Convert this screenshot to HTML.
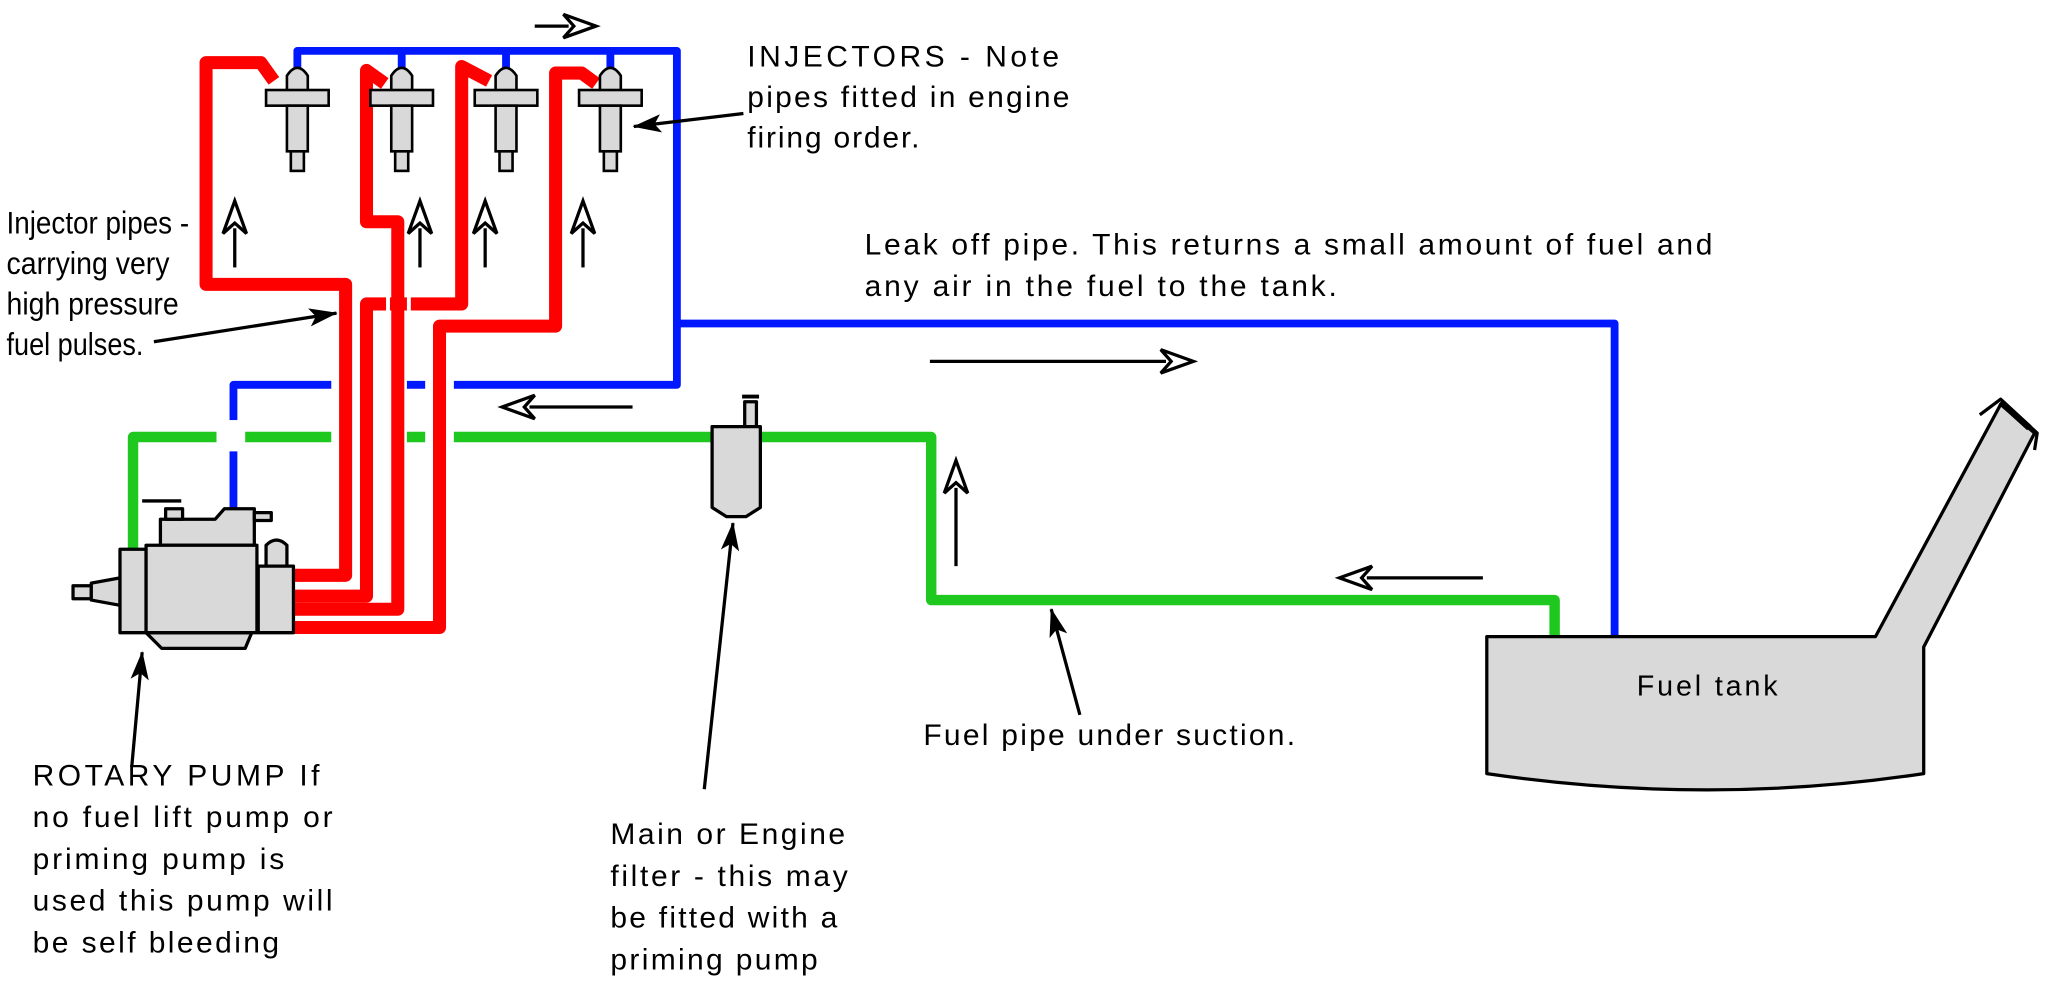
<!DOCTYPE html>
<html><head><meta charset="utf-8"><style>html,body{margin:0;padding:0;background:#fff}svg{display:block}</style></head>
<body>
<svg width="2045" height="981" viewBox="0 0 1568 752" preserveAspectRatio="none" xmlns="http://www.w3.org/2000/svg" font-family="Liberation Sans, sans-serif">
<defs>
<marker id="fh" markerWidth="22" markerHeight="14" refX="21" refY="7" orient="auto" markerUnits="userSpaceOnUse" viewBox="0 0 22 14"><path d="M0,0 L22,7 L0,14 L5,7 Z" fill="#000"/></marker>
</defs>
<rect width="1568" height="752" fill="#fff"/>
<g fill="none" stroke-linejoin="round">
<path d="M102,422 V335 H714 V460 H1192 V490" stroke="#1ec81e" stroke-width="8"/>
<path d="M228,52 V39 H519 V295 H179 V392" stroke="#0018ff" stroke-width="6"/>
<path d="M308,39 V52 M388,39 V52 M468,39 V52" stroke="#0018ff" stroke-width="6"/>
<path d="M519,248 H1238 V490" stroke="#0018ff" stroke-width="6"/>
</g>
<g fill="#fff">
<rect x="166" y="322" width="22" height="24"/>
<rect x="254" y="285" width="58" height="55"/>
<rect x="326" y="285" width="22" height="55"/>
<rect x="296" y="225" width="18" height="16"/>
</g>
<g fill="none" stroke="#ff0000" stroke-width="10" stroke-linejoin="round">
<path d="M210,62 L200,48 H158 V218 H265 V441 H226"/>
<path d="M295,64 L281,54 V170 H305 V467 H226"/>
<path d="M375,62 L354,51 V233 H281 V457 H226"/>
<path d="M457,64 L446,56 H426 V250 H337 V481 H226"/>
</g>
<rect x="296" y="226" width="3" height="14" fill="#fff"/><rect x="312" y="226" width="3" height="14" fill="#fff"/>
<g fill="#d9d9d9" stroke="#000" stroke-width="2">
<g id="inj">
<path d="M220,70 V58 Q228,46 236,58 V70 Z"/>
<rect x="204" y="69" width="48" height="12"/>
<rect x="220" y="81" width="16" height="35"/>
<rect x="223" y="116" width="10" height="15"/>
</g>
<use href="#inj" x="80"/><use href="#inj" x="160"/><use href="#inj" x="240"/>
</g>
<g fill="#d9d9d9" stroke="#000" stroke-width="2.5" stroke-linejoin="round">
<rect x="56" y="449" width="14" height="10"/>
<path d="M70,447 L92,443 V464 L70,460 Z"/>
<path d="M112,485 L124,497 H188 L193,485 Z"/>
<rect x="92" y="421" width="20" height="64"/>
<path d="M123,418 V398 H165 L172,390 H195 V418 Z"/>
<rect x="127" y="390" width="13" height="8"/>
<path d="M109,384 H139" fill="none"/>
<rect x="195" y="393" width="13" height="6"/>
<rect x="112" y="418" width="85" height="67"/>
<path d="M204,434 V418 Q212,410 220,418 V434 Z"/>
<rect x="198" y="434" width="27" height="51"/>
</g>
<g fill="#d9d9d9" stroke="#000" stroke-width="2.5" stroke-linejoin="round">
<rect x="571" y="308" width="9" height="19"/>
<path d="M569,304 H582" stroke-width="3"/>
<path d="M546,327 H583 V389 L572,396 H557 L546,389 Z"/>
</g>
<g stroke="#000" stroke-width="2.5" stroke-linejoin="round">
<path d="M1140,488 H1438 L1534,310 L1560,332 L1475,496 V593 Q1310,618 1140,593 Z" fill="#d9d9d9"/>
<path d="M1518,318 L1534,306 L1562,332 L1560,345" fill="none"/>
<path d="M1534,308 L1556,328" stroke-width="5"/>
</g>
<g stroke="#000" stroke-width="2.5" fill="#fff" stroke-linejoin="miter">
<path d="M410,20 H436"/><path d="M432,11 L457,20 L432,29 L440,20 Z"/>
<path d="M180,205 V175"/><path d="M171,179 L180,154 L189,179 L180,171 Z"/>
<path d="M322,205 V175"/><path d="M313,179 L322,154 L331,179 L322,171 Z"/>
<path d="M372,205 V175"/><path d="M363,179 L372,154 L381,179 L372,171 Z"/>
<path d="M447,205 V175"/><path d="M438,179 L447,154 L456,179 L447,171 Z"/>
<path d="M485,312 H406"/><path d="M410,303 L385,312 L410,321 L402,312 Z"/>
<path d="M713,277 H894"/><path d="M890,268 L915,277 L890,286 L898,277 Z"/>
<path d="M733,434 V374"/><path d="M724,378 L733,353 L742,378 L733,370 Z"/>
<path d="M1137,443 H1048"/><path d="M1052,434 L1027,443 L1052,452 L1044,443 Z"/>
</g>
<g stroke="#000" stroke-width="2.5" fill="none">
<path d="M570,87 L486,97" marker-end="url(#fh)"/>
<path d="M118,262 L258,240" marker-end="url(#fh)"/>
<path d="M101,588 L109,500" marker-end="url(#fh)"/>
<path d="M540,605 L562,401" marker-end="url(#fh)"/>
<path d="M828,548 L806,467" marker-end="url(#fh)"/>
</g>
<g font-size="23" fill="#000">
<text x="573" y="51" textLength="239" lengthAdjust="spacing">INJECTORS - Note</text>
<text x="573" y="82" textLength="247" lengthAdjust="spacing">pipes fitted in engine</text>
<text x="573" y="113" textLength="132" lengthAdjust="spacing">firing order.</text>
<text x="663" y="195" textLength="650" lengthAdjust="spacing">Leak off pipe. This returns a small amount of fuel and</text>
<text x="663" y="227" textLength="362" lengthAdjust="spacing">any air in the fuel to the tank.</text>
<text x="25" y="602" textLength="220" lengthAdjust="spacing">ROTARY PUMP If</text>
<text x="25" y="634" textLength="230" lengthAdjust="spacing">no fuel lift pump or</text>
<text x="25" y="666" textLength="193" lengthAdjust="spacing">priming pump is</text>
<text x="25" y="698" textLength="230" lengthAdjust="spacing">used this pump will</text>
<text x="25" y="730" textLength="189" lengthAdjust="spacing">be self bleeding</text>
<text x="468" y="647" textLength="180" lengthAdjust="spacing">Main or Engine</text>
<text x="468" y="679" textLength="182" lengthAdjust="spacing">filter - this may</text>
<text x="468" y="711" textLength="174" lengthAdjust="spacing">be fitted with a</text>
<text x="468" y="743" textLength="159" lengthAdjust="spacing">priming pump</text>
<text x="708" y="571" textLength="285" lengthAdjust="spacing">Fuel pipe under suction.</text>
<text x="1255" y="533" font-size="22" textLength="108" lengthAdjust="spacing">Fuel tank</text>
</g>
<g font-size="24" fill="#000">
<text x="5" y="179" textLength="140" lengthAdjust="spacingAndGlyphs">Injector pipes -</text>
<text x="5" y="210" textLength="125" lengthAdjust="spacingAndGlyphs">carrying very</text>
<text x="5" y="241" textLength="132" lengthAdjust="spacingAndGlyphs">high pressure</text>
<text x="5" y="272" textLength="105" lengthAdjust="spacingAndGlyphs">fuel pulses.</text>
</g>
</svg>
</body></html>
